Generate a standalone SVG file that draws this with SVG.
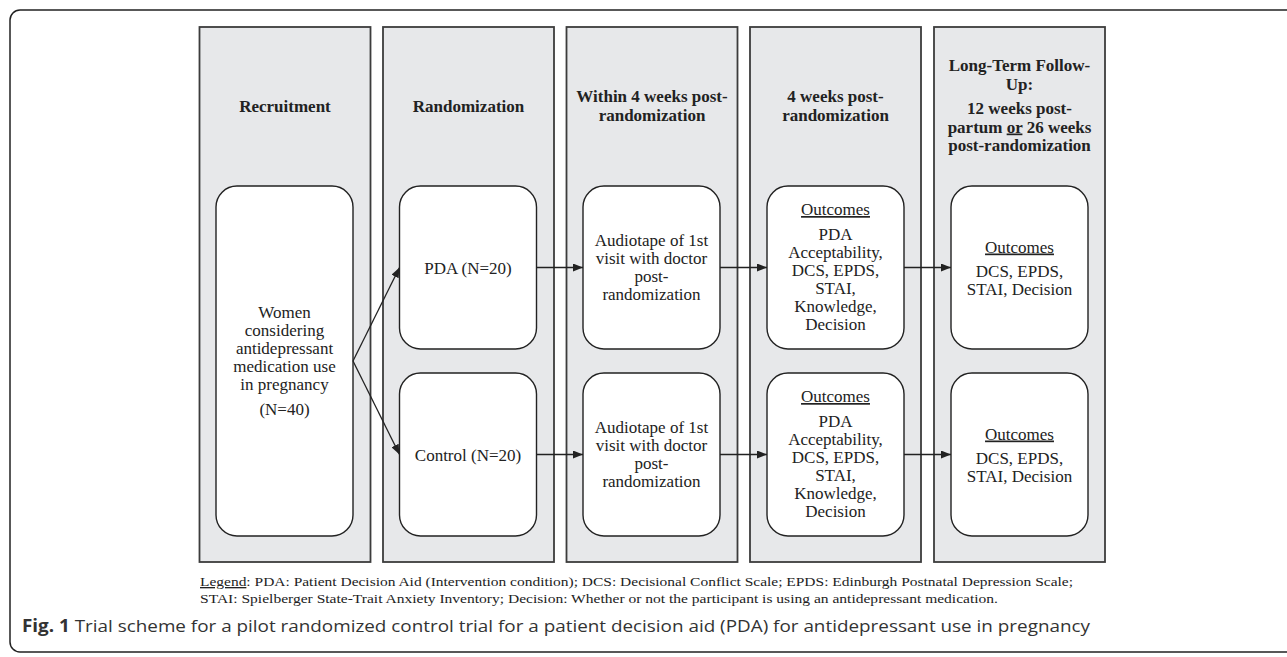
<svg xmlns="http://www.w3.org/2000/svg" width="1287" height="657" viewBox="0 0 1287 657">
<style>
.col{fill:#e7e8ea;stroke:#3c3c3c;stroke-width:1.8}
.box{fill:#ffffff;stroke:#222;stroke-width:1.4}
.hd{font-family:"Liberation Serif",serif;font-weight:bold;font-size:17px;fill:#222;text-anchor:middle}
.tx{font-family:"Liberation Serif",serif;font-size:17px;fill:#222;text-anchor:middle}
.u{text-decoration:underline}
.lg{font-family:"Liberation Serif",serif;font-size:13.3px;fill:#222}
.cap{font-family:"Open Sans","Noto Sans",sans-serif;font-size:17px;fill:#333}
.con{fill:none;stroke:#222;stroke-width:1.3;marker-end:url(#ah)}
</style>
<defs>
<marker id="ah" markerWidth="10" markerHeight="8" refX="10" refY="4" orient="auto" markerUnits="userSpaceOnUse">
<path d="M0,0 L10,4 L0,8 Z" fill="#222"/>
</marker>
</defs>
<rect width="1287" height="657" fill="#ffffff"/>
<rect id="frame" x="10" y="10" width="1300" height="642" rx="10" fill="none" stroke="#222" stroke-width="1.5"/>

<g id="col-recruitment">
<rect class="col" x="199.5" y="27" width="171" height="535"/>
<text class="hd" x="285" y="112">Recruitment</text>
</g>
<g id="col-randomization">
<rect class="col" x="383" y="27" width="171" height="535"/>
<text class="hd" x="468.5" y="112">Randomization</text>
</g>
<g id="col-within4">
<rect class="col" x="566.5" y="27" width="171" height="535"/>
<text class="hd" x="652" y="102">Within 4 weeks post-</text>
<text class="hd" x="652" y="121">randomization</text>
</g>
<g id="col-4weeks">
<rect class="col" x="750" y="27" width="171" height="535"/>
<text class="hd" x="835.5" y="102">4 weeks post-</text>
<text class="hd" x="835.5" y="121">randomization</text>
</g>
<g id="col-longterm">
<rect class="col" x="934" y="27" width="171" height="535"/>
<text class="hd" x="1019.5" y="71">Long-Term Follow-</text>
<text class="hd" x="1019.5" y="89.5">Up:</text>
<text class="hd" x="1019.5" y="114">12 weeks post-</text>
<text class="hd" x="1019.5" y="132.5">partum <tspan class="u">or</tspan> 26 weeks</text>
<text class="hd" x="1019.5" y="151">post-randomization</text>
</g>

<g id="node-women">
<rect class="box" x="216" y="186" width="137" height="350" rx="21"/>
<text class="tx" x="284.5" y="317.5">Women</text>
<text class="tx" x="284.5" y="335.5">considering</text>
<text class="tx" x="284.5" y="353.5">antidepressant</text>
<text class="tx" x="284.5" y="371.5">medication use</text>
<text class="tx" x="284.5" y="389.5">in pregnancy</text>
<text class="tx" x="284.5" y="415">(N=40)</text>
</g>

<g id="node-pda">
<rect class="box" x="399.5" y="186" width="137" height="163" rx="21"/>
<text class="tx" x="468" y="274">PDA (N=20)</text>
</g>
<g id="node-control">
<rect class="box" x="399.5" y="373" width="137" height="163" rx="21"/>
<text class="tx" x="468" y="460.5">Control (N=20)</text>
</g>

<g id="node-audio-pda">
<rect class="box" x="583" y="186" width="137" height="163" rx="21"/>
<text class="tx" x="651.5" y="246">Audiotape of 1st</text>
<text class="tx" x="651.5" y="264">visit with doctor</text>
<text class="tx" x="651.5" y="282">post-</text>
<text class="tx" x="651.5" y="300">randomization</text>
</g>
<g id="node-audio-control">
<rect class="box" x="583" y="373" width="137" height="163" rx="21"/>
<text class="tx" x="651.5" y="433">Audiotape of 1st</text>
<text class="tx" x="651.5" y="451">visit with doctor</text>
<text class="tx" x="651.5" y="469">post-</text>
<text class="tx" x="651.5" y="487">randomization</text>
</g>

<g id="node-out4-pda">
<rect class="box" x="767" y="186" width="137" height="163" rx="21"/>
<text class="tx u" x="835.5" y="215">Outcomes</text>
<text class="tx" x="835.5" y="240">PDA</text>
<text class="tx" x="835.5" y="258">Acceptability,</text>
<text class="tx" x="835.5" y="276">DCS, EPDS,</text>
<text class="tx" x="835.5" y="294">STAI,</text>
<text class="tx" x="835.5" y="312">Knowledge,</text>
<text class="tx" x="835.5" y="330">Decision</text>
</g>
<g id="node-out4-control">
<rect class="box" x="767" y="373" width="137" height="163" rx="21"/>
<text class="tx u" x="835.5" y="402">Outcomes</text>
<text class="tx" x="835.5" y="427">PDA</text>
<text class="tx" x="835.5" y="445">Acceptability,</text>
<text class="tx" x="835.5" y="463">DCS, EPDS,</text>
<text class="tx" x="835.5" y="481">STAI,</text>
<text class="tx" x="835.5" y="499">Knowledge,</text>
<text class="tx" x="835.5" y="517">Decision</text>
</g>

<g id="node-lt-pda">
<rect class="box" x="951" y="186" width="137" height="163" rx="21"/>
<text class="tx u" x="1019.5" y="252.5">Outcomes</text>
<text class="tx" x="1019.5" y="276.5">DCS, EPDS,</text>
<text class="tx" x="1019.5" y="294.5">STAI, Decision</text>
</g>
<g id="node-lt-control">
<rect class="box" x="951" y="373" width="137" height="163" rx="21"/>
<text class="tx u" x="1019.5" y="439.5">Outcomes</text>
<text class="tx" x="1019.5" y="463.5">DCS, EPDS,</text>
<text class="tx" x="1019.5" y="481.5">STAI, Decision</text>
</g>

<g id="connectors">
<path class="con" d="M353,361 L399.5,267.5"/>
<path class="con" d="M353,361 L399.5,454.5"/>
<path class="con" d="M536.5,267.5 L583,267.5"/>
<path class="con" d="M536.5,454.5 L583,454.5"/>
<path class="con" d="M720,267.5 L767,267.5"/>
<path class="con" d="M720,454.5 L767,454.5"/>
<path class="con" d="M904,267.5 L951,267.5"/>
<path class="con" d="M904,454.5 L951,454.5"/>
</g>

<g id="legend">
<text class="lg" x="200" y="586" textLength="873" lengthAdjust="spacingAndGlyphs"><tspan class="u">Legend</tspan>: PDA: Patient Decision Aid (Intervention condition); DCS: Decisional Conflict Scale; EPDS: Edinburgh Postnatal Depression Scale;</text>
<text class="lg" x="200" y="603" textLength="798" lengthAdjust="spacingAndGlyphs">STAI: Spielberger State-Trait Anxiety Inventory; Decision: Whether or not the participant is using an antidepressant medication.</text>
</g>
<g id="caption">
<text class="cap" x="22" y="632" textLength="1068" lengthAdjust="spacingAndGlyphs"><tspan font-weight="bold">Fig. 1</tspan> Trial scheme for a pilot randomized control trial for a patient decision aid (PDA) for antidepressant use in pregnancy</text>
</g>
</svg>
